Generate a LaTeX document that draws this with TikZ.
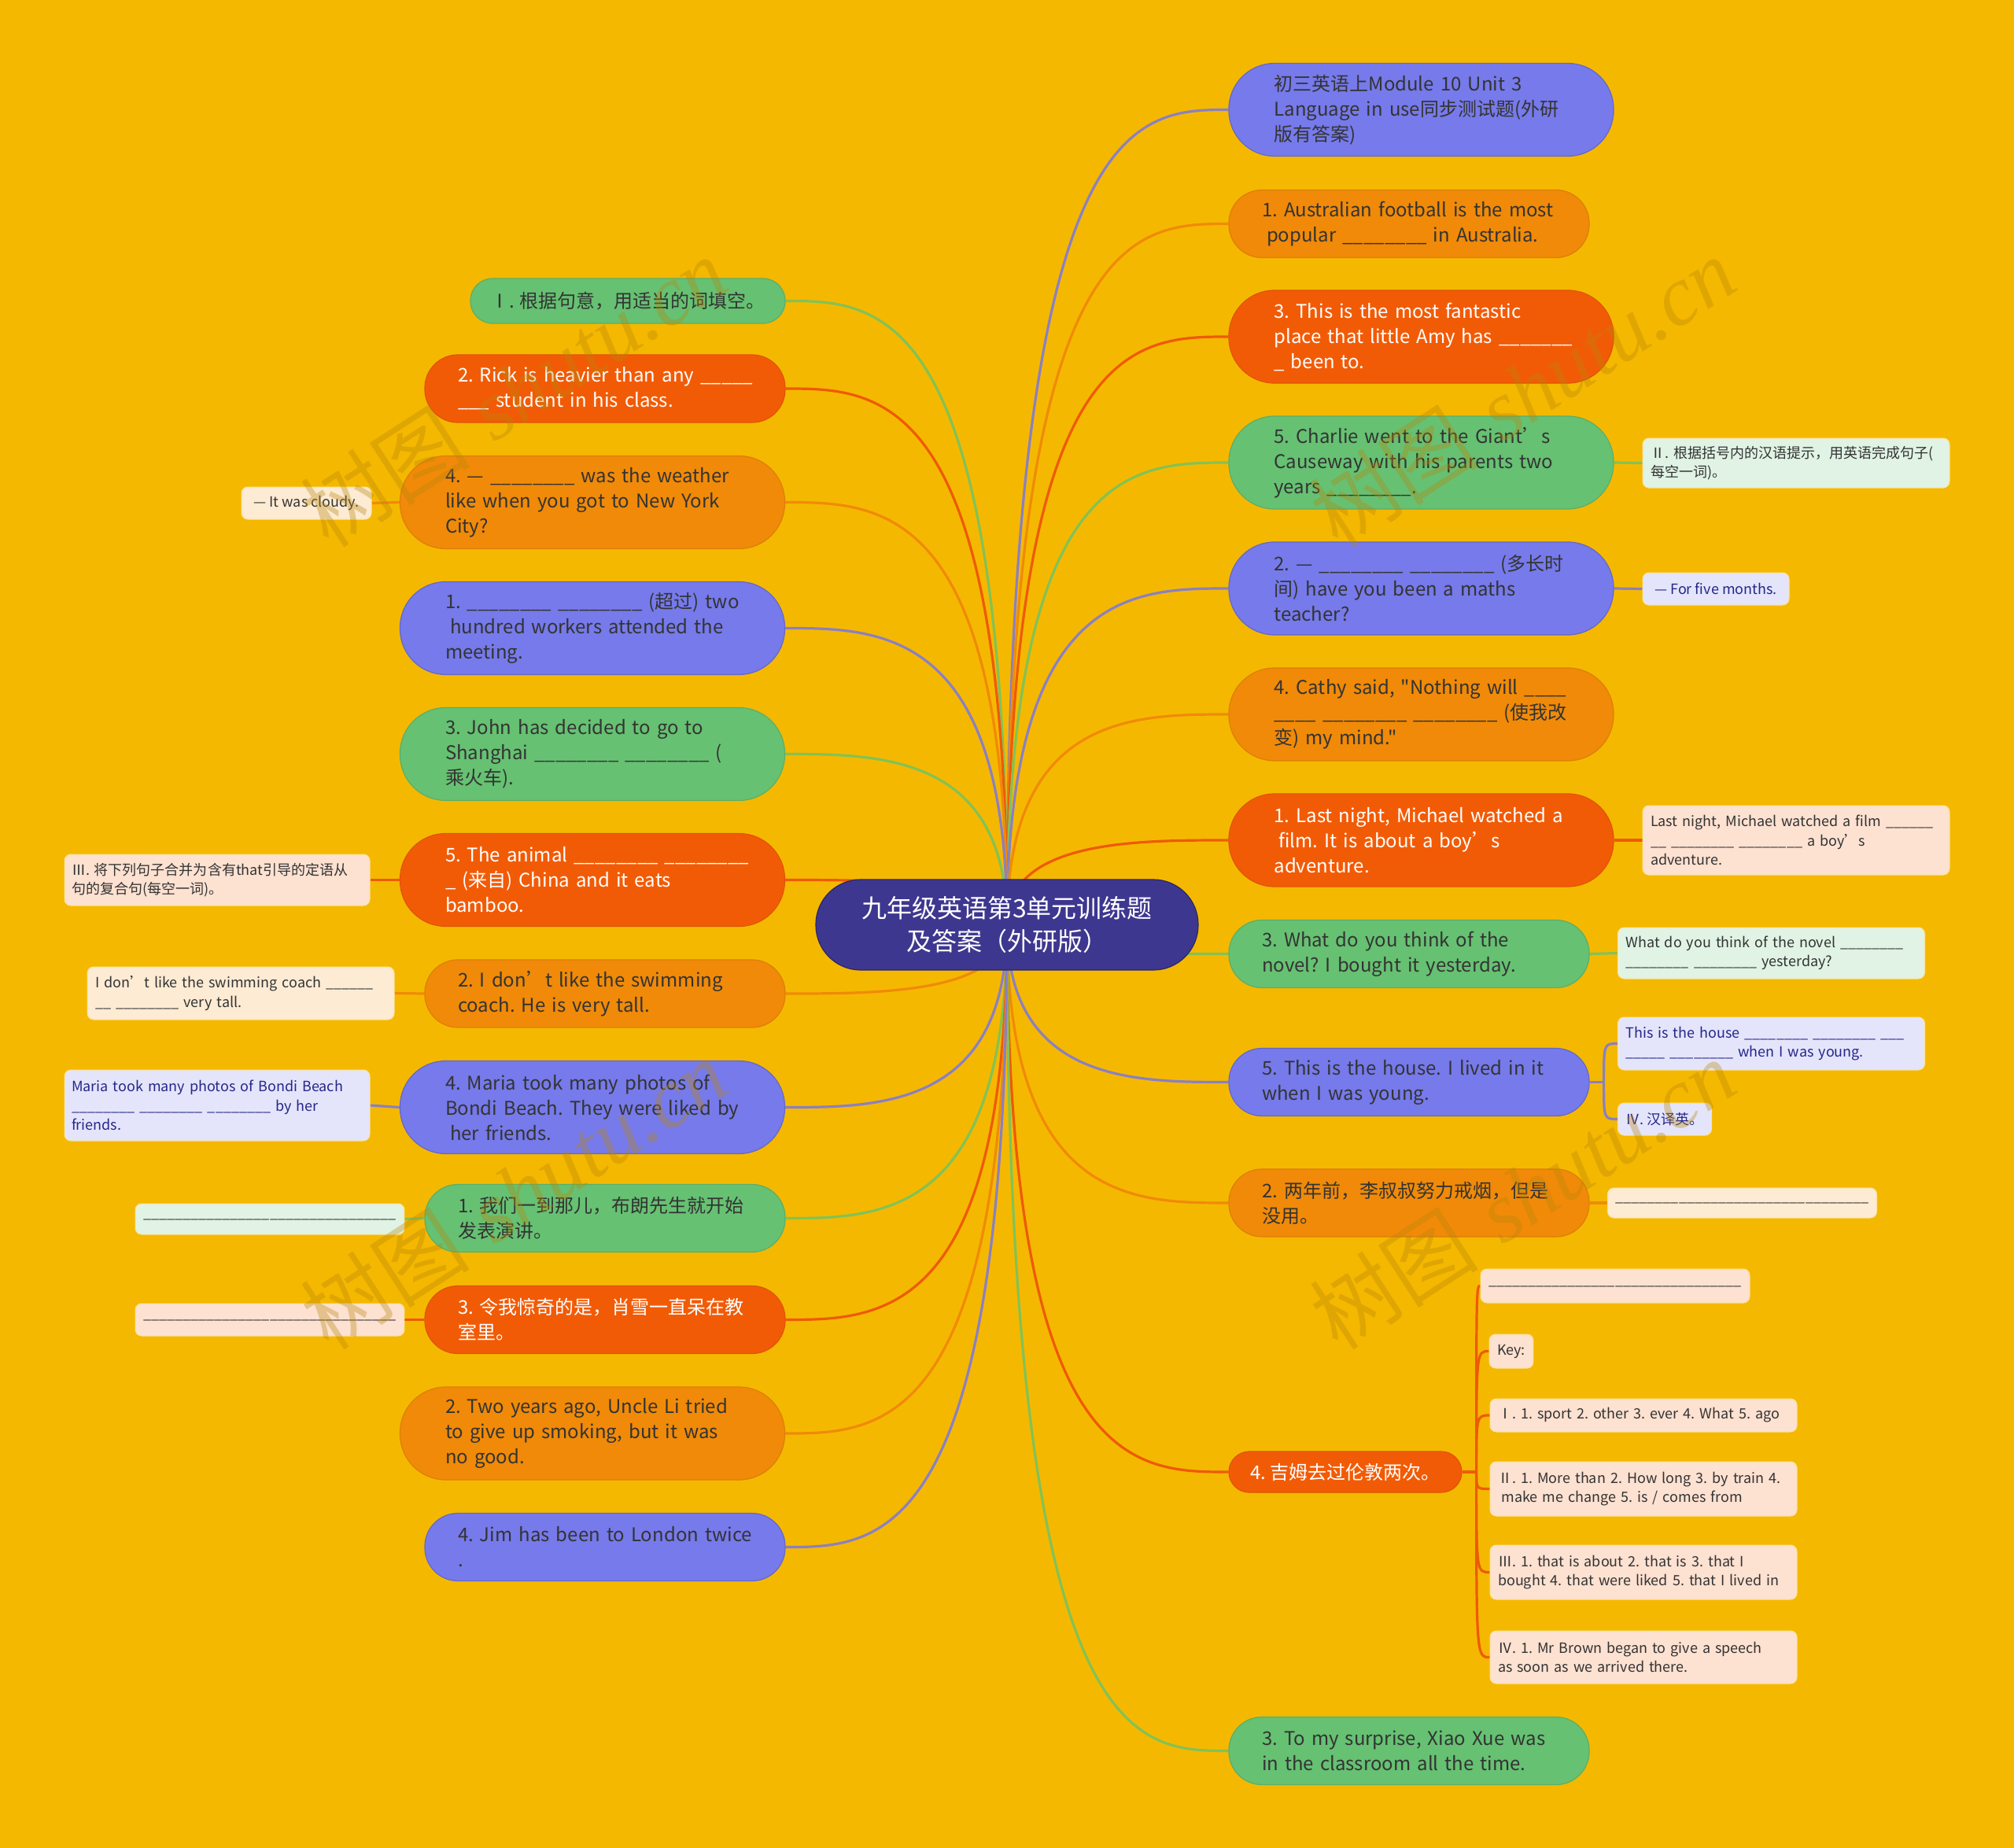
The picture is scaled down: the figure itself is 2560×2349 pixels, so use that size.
\documentclass[tikz,border=0pt]{standalone}
\usepackage{fontspec}
\setmainfont{Noto Sans CJK SC}
\newfontfamily\cjk{Noto Sans CJK SC}
\newfontfamily\wmserif{Liberation Serif}
\usetikzlibrary{calc}
\definecolor{bgc}{HTML}{F5B800}
\definecolor{cP}{HTML}{767AEA}
\definecolor{cO}{HTML}{F08A08}
\definecolor{cR}{HTML}{F25B06}
\definecolor{cG}{HTML}{66C172}
\definecolor{cC}{HTML}{3E378F}
\definecolor{lP}{HTML}{8A80C2}
\definecolor{lO}{HTML}{F08A08}
\definecolor{lR}{HTML}{EE5A08}
\definecolor{lG}{HTML}{82C256}
\definecolor{kG}{HTML}{E0F3E4}
\definecolor{kP}{HTML}{E4E5FB}
\definecolor{kR}{HTML}{FDE1D1}
\definecolor{kO}{HTML}{FDEBD4}
\definecolor{txt}{HTML}{333333}
\definecolor{navy}{HTML}{26268A}
\definecolor{wmc}{HTML}{B8860B}
\pgfdeclarelayer{back}\pgfdeclarelayer{edges}\pgfdeclarelayer{front}
\pgfsetlayers{back,edges,main,front}
\newcommand\UL[1]{\foreach\ulI in {1,...,#1}{\_}}
\newcommand\mfont{\cjk\fontsize{12}{16}\selectfont\frenchspacing}
\newcommand\sfont{\cjk\fontsize{9}{12.25}\selectfont\frenchspacing}
\tikzset{
  x=0.5pt, y=-0.5pt,
  base/.style={inner sep=0pt, font=\mfont, line width=0.6pt},
  b3/.style={base, minimum width=244.5pt, minimum height=59pt, rounded corners=29pt, text width=196pt, align=left, execute at begin node={\leftskip=4.5pt\relax}},
  b2/.style={base, minimum width=229pt, minimum height=43pt, rounded corners=21pt, text width=196pt, align=left, execute at begin node={\leftskip=4.5pt\relax}},
  b1/.style={base, minimum width=200pt, minimum height=28.5pt, rounded corners=14pt, align=center},
  fP/.style={fill=cP, draw=cP!85!black, text=txt},
  fO/.style={fill=cO, draw=cO!92!black, text=txt},
  fR/.style={fill=cR, draw=cR!92!black, text=white},
  fG/.style={fill=cG, draw=cG!90!black, text=txt},
  kid/.style={inner xsep=5pt, inner ysep=0pt, rounded corners=4pt, font=\sfont, align=left, draw=white!60!bgc, line width=0.5pt},
  kw/.style={kid, inner xsep=0pt, minimum width=195pt, text width=190pt, execute at begin node={\leftskip=2.5pt\relax}},
  gP/.style={fill=kP, text=navy},
  gG/.style={fill=kG, text=txt},
  gR/.style={fill=kR, text=txt},
  gO/.style={fill=kO, text=txt},
  con/.style={line width=1.6pt},
  wm/.style={text=wmc, opacity=0.35, font=\fontsize{54}{60}\selectfont, rotate=33, inner sep=0pt}
}
\begin{document}
\frenchspacing
\begin{tikzpicture}
\begin{pgfonlayer}{back}
\fill[bgc] (0,0) rectangle (2560,2349);
\end{pgfonlayer}
\useasboundingbox (0,0) rectangle (2560,2349);

% central
\node[base, fill=cC, draw=cC!70!black, text=white, minimum width=243pt, minimum height=57.5pt,
  rounded corners=28.5pt, align=center, font=\cjk\fontsize{16}{21}\selectfont] (c) at (1280,1175.5)
  {九年级英语第3单元训练题\\及答案（外研版）};

% right side
\node[b3,fP] (R1) at (1806.5,139.5) {初三英语上Module 10 Unit 3\\Language in use同步测试题(外研\\版有答案)};
\node[b2,fO] (R2) at (1791,284.5) {1. Australian football is the most\\\hspace*{.25em}popular \UL{8} in Australia.};
\node[b3,fR] (R3) at (1806.5,428) {3. This is the most fantastic\\place that little Amy has \UL{7}\\\UL{1} been to.};
\node[b3,fG] (R4) at (1806.5,588) {5. Charlie went to the Giant’s\\Causeway with his parents two\\years \UL{8}.};
\node[b3,fP] (R5) at (1806.5,748) {2. — \UL{8} \UL{8} (多长时\\间) have you been a maths\\teacher?};
\node[b3,fO] (R6) at (1806.5,908) {4. Cathy said, "Nothing will \UL{4}\\\UL{4} \UL{8} \UL{8} (使我改\\变) my mind."};
\node[b3,fR] (R7) at (1806.5,1068) {1. Last night, Michael watched a\\\hspace*{.25em}film. It is about a boy’s\\adventure.};
\node[b2,fG] (R8) at (1791,1212.5) {3. What do you think of the\\novel? I bought it yesterday.};
\node[b2,fP] (R9) at (1791,1375.5) {5. This is the house. I lived in it\\when I was young.};
\node[b2,fO] (R10) at (1791,1529) {2. 两年前，李叔叔努力戒烟，但是\\没用。};
\node[base,fR,minimum width=148pt,minimum height=26pt,rounded corners=13pt,align=center] (R11) at (1710,1871) {4. 吉姆去过伦敦两次。};
\node[b2,fG] (R12) at (1791,2225.5) {3. To my surprise, Xiao Xue was\\in the classroom all the time.};

% right children
\node[kw,gG,minimum height=31.5pt] (R4c) at (2283,588.5) {Ⅱ. 根据括号内的汉语提示，用英语完成句子(\\每空一词)。};
\node[kid,gP,minimum width=93pt,minimum height=20.5pt,align=center] (R5c) at (2181,748.5) {— For five months.};
\node[kw,gR,minimum height=44pt] (R7c) at (2283,1068) {Last night, Michael watched a film \UL{6}\\\UL{2} \UL{8} \UL{8} a boy’s\\adventure.};
\node[kw,gG,minimum height=32.5pt] (R8c) at (2251.5,1211.5) {What do you think of the novel \UL{8}\\\UL{8} \UL{8} yesterday?};
\node[kw,gP,minimum height=33.5pt] (R9a) at (2251.5,1326.5) {This is the house \UL{8} \UL{8} \UL{3}\\\UL{5} \UL{8} when I was young.};
\node[kid,gP,minimum width=59pt,minimum height=20.5pt,align=center] (R9b) at (2116,1422.5) {Ⅳ. 汉译英。};
\node[kid,gO,minimum width=157.5pt,minimum height=19pt,align=center] (R10c) at (2214.5,1529) {\UL{32}};
\node[kid,gR,minimum width=159pt,minimum height=21.5pt,align=center] (K1) at (2053,1634.5) {\UL{32}};
\node[kid,gR,minimum width=27pt,minimum height=21.5pt,align=center] (K2) at (1921,1717.5) {Key:};
\node[kw,gR,minimum height=21pt] (K3) at (2089,1799) {Ⅰ. 1. sport 2. other 3. ever 4. What 5. ago};
\node[kw,gR,minimum height=34.5pt] (K4) at (2089,1892.5) {Ⅱ. 1. More than 2. How long 3. by train 4.\\\hspace*{.25em}make me change 5. is / comes from};
\node[kw,gR,minimum height=34.5pt] (K5) at (2089,1998.5) {Ⅲ. 1. that is about 2. that is 3. that I\\bought 4. that were liked 5. that I lived in};
\node[kw,gR,minimum height=33.5pt] (K6) at (2089,2106.5) {Ⅳ. 1. Mr Brown began to give a speech\\as soon as we arrived there.};

% left side
\node[b1,fG] (L1) at (798,382.5) {Ⅰ. 根据句意，用适当的词填空。};
\node[b2,fR] (L2) at (769,494) {2. Rick is heavier than any \UL{5}\\\UL{3} student in his class.};
\node[b3,fO] (L3) at (753,638.5) {4. — \UL{8} was the weather\\like when you got to New York\\City?};
\node[b3,fP] (L4) at (753,798.5) {1. \UL{8} \UL{8} (超过) two\\\hspace*{.25em}hundred workers attended the\\meeting.};
\node[b3,fG] (L5) at (753,958.5) {3. John has decided to go to\\Shanghai \UL{8} \UL{8} (\\乘火车).};
\node[b3,fR] (L6) at (753,1118.5) {\mbox{5. The animal \UL{8} \UL{8}}\\\UL{1} (来自) China and it eats\\bamboo.};
\node[b2,fO] (L7) at (769,1263) {2. I don’t like the swimming\\coach. He is very tall.};
\node[b3,fP] (L8) at (753,1407.5) {4. Maria took many photos of\\Bondi Beach. They were liked by\\\hspace*{.25em}her friends.};
\node[b2,fG] (L9) at (769,1548.5) {1. 我们一到那儿，布朗先生就开始\\发表演讲。};
\node[b2,fR] (L10) at (769,1677.5) {3. 令我惊奇的是，肖雪一直呆在教\\室里。};
\node[b3,fO] (L11) at (753,1822) {2. Two years ago, Uncle Li tried\\to give up smoking, but it was\\no good.};
\node[b2,fP] (L12) at (769,1966.5) {4. Jim has been to London twice\\.};

% left children
\node[kid,gO,minimum width=82.5pt,minimum height=20.5pt,align=center] (L3c) at (389.5,639.5) {— It was cloudy.};
\node[kw,gR,minimum width=194pt,minimum height=32.5pt] (L6c) at (276,1118.5) {Ⅲ. 将下列句子合并为含有that引导的定语从\\句的复合句(每空一词)。};
\node[kw,gO,minimum height=33.5pt] (L7c) at (306,1262.5) {I don’t like the swimming coach \UL{6}\\\UL{2} \UL{8} very tall.};
\node[kw,gP,minimum width=194pt,minimum height=45pt] (L8c) at (276,1405) {Maria took many photos of Bondi Beach\\\UL{8} \UL{8} \UL{8} by her\\friends.};
\node[kid,gG,minimum width=158pt,minimum height=19.5pt,align=center] (L9c) at (343,1549.5) {\UL{32}};
\node[kid,gR,minimum width=158pt,minimum height=20.5pt,align=center] (L10c) at (343,1677.5) {\UL{32}};

% connectors
\begin{pgfonlayer}{edges}
\foreach \n/\col in {R1/lP,R2/lO,R3/lR,R4/lG,R5/lP,R6/lO,R7/lR,R8/lG,R9/lP,R10/lO,R11/lR,R12/lG}
  \draw[con,draw=\col] (c.center) .. controls (c.center |- \n.west) and ([xshift=-60pt]\n.west) .. (\n.west);
\foreach \n/\col in {L1/lG,L2/lR,L3/lO,L4/lP,L5/lG,L6/lR,L7/lO,L8/lP,L9/lG,L10/lR,L11/lO,L12/lP}
  \draw[con,draw=\col] (c.center) .. controls (c.center |- \n.east) and ([xshift=60pt]\n.east) .. (\n.east);
\draw[con,lG] (R4.east) -- (R4c.west);
\draw[con,lP] (R5.east) -- (R5c.west);
\draw[con,lR] (R7.east) -- (R7c.west);
\draw[con,lG] (R8.east) -- (R8c.west);
\draw[con,lO] (R10.east) -- (R10c.west);
\coordinate (j9) at ([xshift=9pt]R9.east);
\draw[con,lP] (R9.east) -- (j9);
\foreach \k in {R9a,R9b}
  \draw[con,lP] (j9) .. controls (j9 |- \k.west) .. (\k.west);
\coordinate (j11) at ([xshift=9pt]R11.east);
\draw[con,lR] (R11.east) -- (j11);
\foreach \k in {K1,K2,K3,K4,K5,K6}
  \draw[con,lR] (j11) .. controls (j11 |- \k.west) .. (\k.west);
\draw[con,lO] (L3.west) -- (L3c.east);
\draw[con,lR] (L6.west) -- (L6c.east);
\draw[con,lO] (L7.west) -- (L7c.east);
\draw[con,lP] (L8.west) -- (L8c.east);
\draw[con,lG] (L9.west) -- (L9c.east);
\draw[con,lR] (L10.west) -- (L10c.east);
\end{pgfonlayer}

% watermarks
\begin{pgfonlayer}{front}
\foreach \p in {(653,498),(1935,498),(653,1518),(1935,1518)}
  \node[wm] at \p {树图\hspace{.3em}{\wmserif\itshape shutu.cn}};
\end{pgfonlayer}
\end{tikzpicture}
\end{document}
